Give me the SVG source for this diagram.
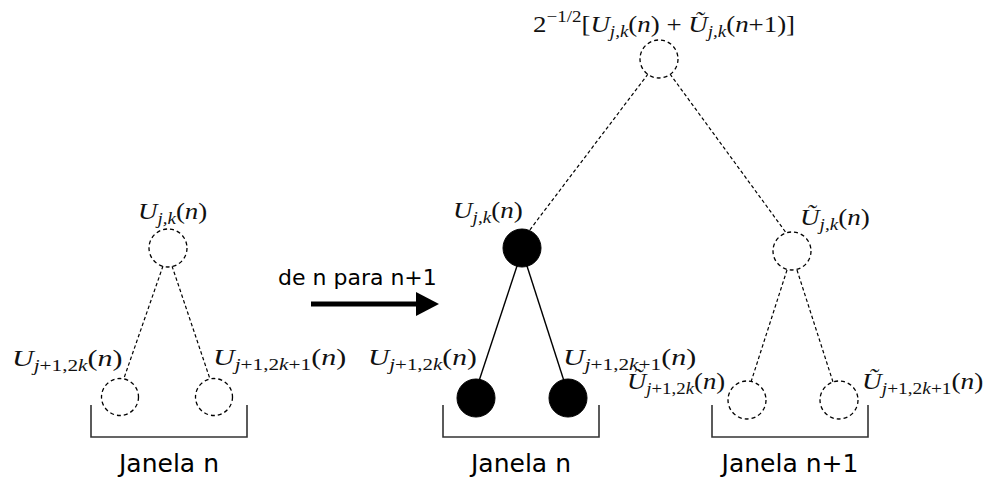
<svg xmlns="http://www.w3.org/2000/svg" width="990" height="479" viewBox="0 0 990 479">
<style>
.dc{fill:#fff;stroke:#000;stroke-width:1.3;stroke-dasharray:4 3}
.fc{fill:#000;stroke:#000;stroke-width:1}
.dl{stroke:#000;stroke-width:1.2;stroke-dasharray:3.5 2.5;fill:none}
.sl{stroke:#000;stroke-width:1.4;fill:none}
.br{stroke:#333;stroke-width:1.6;fill:none}
.m{font-family:"Liberation Serif","Times New Roman",serif;font-size:24px;fill:#111}
.i{font-style:italic}
.s{font-size:17px}
.t{font-family:"DejaVu Sans",sans-serif;fill:#000}
</style>
<rect width="990" height="479" fill="#fff"/>
<g id="connectors">
  <line class="dl" x1="163" y1="266" x2="123" y2="381"/>
  <line class="dl" x1="172" y1="266" x2="210" y2="379"/>
  <line class="sl" x1="517" y1="266" x2="479" y2="381"/>
  <line class="sl" x1="527" y1="266" x2="564" y2="381"/>
  <line class="dl" x1="648" y1="74" x2="529" y2="231"/>
  <line class="dl" x1="670" y1="74" x2="787" y2="234"/>
  <line class="dl" x1="787" y1="270" x2="751" y2="382"/>
  <line class="dl" x1="797" y1="270" x2="833" y2="382"/>
  <line x1="311" y1="304" x2="418" y2="304" stroke="#000" stroke-width="5"/>
  <polygon points="416,292 439,304 416,316" fill="#000"/>
</g>
<g id="top-node">
  <circle class="dc" cx="659" cy="59" r="19"/>
  <text class="m" transform="translate(533,32) scale(1.12,1)">2<tspan class="s" dy="-10">−1/2</tspan><tspan dy="10">[</tspan><tspan class="i">U</tspan><tspan class="s i" dy="5">j,k</tspan><tspan dy="-5">(</tspan><tspan class="i">n</tspan>) + <tspan class="i">Ũ</tspan><tspan class="s i" dy="5">j,k</tspan><tspan dy="-5">(</tspan><tspan class="i">n</tspan>+1)]</text>
</g>
<g id="left-parent">
  <circle class="dc" cx="168" cy="248" r="19"/>
  <text class="m" transform="translate(138,219) scale(1.12,1)"><tspan class="i">U</tspan><tspan class="s i" dy="5">j,k</tspan><tspan dy="-5">(</tspan><tspan class="i">n</tspan>)</text>
</g>
<g id="left-child-a">
  <circle class="dc" cx="120" cy="397" r="18.5"/>
  <text class="m" transform="translate(12,366) scale(1.25,1)"><tspan class="i">U</tspan><tspan class="s" dy="5"><tspan class="i">j</tspan>+1,2<tspan class="i">k</tspan></tspan><tspan dy="-5">(</tspan><tspan class="i">n</tspan>)</text>
</g>
<g id="left-child-b">
  <circle class="dc" cx="214" cy="397" r="18.5"/>
  <text class="m" transform="translate(213,365) scale(1.25,1)"><tspan class="i">U</tspan><tspan class="s" dy="5"><tspan class="i">j</tspan>+1,2<tspan class="i">k</tspan>+1</tspan><tspan dy="-5">(</tspan><tspan class="i">n</tspan>)</text>
</g>
<g id="left-window">
  <path class="br" d="M91 405 V437 H247 V405"/>
  <text class="t" x="169" y="472" font-size="25" text-anchor="middle">Janela n</text>
</g>
<g id="arrow-label">
  <text class="t" x="278" y="285" font-size="22">de n para n+1</text>
</g>
<g id="mid-parent">
  <circle class="fc" cx="522" cy="248" r="19"/>
  <text class="m" transform="translate(453,218) scale(1.13,1)"><tspan class="i">U</tspan><tspan class="s i" dy="5">j,k</tspan><tspan dy="-5">(</tspan><tspan class="i">n</tspan>)</text>
</g>
<g id="mid-child-a">
  <circle class="fc" cx="476" cy="398" r="19"/>
  <text class="m" transform="translate(368,365) scale(1.23,1)"><tspan class="i">U</tspan><tspan class="s" dy="5"><tspan class="i">j</tspan>+1,2<tspan class="i">k</tspan></tspan><tspan dy="-5">(</tspan><tspan class="i">n</tspan>)</text>
</g>
<g id="mid-child-b">
  <circle class="fc" cx="568" cy="398" r="19"/>
  <text class="m" transform="translate(563,365) scale(1.25,1)"><tspan class="i">U</tspan><tspan class="s" dy="5"><tspan class="i">j</tspan>+1,2<tspan class="i">k</tspan>+1</tspan><tspan dy="-5">(</tspan><tspan class="i">n</tspan>)</text>
</g>
<g id="mid-window">
  <path class="br" d="M443 405 V437 H599 V405"/>
  <text class="t" x="521" y="472" font-size="25" text-anchor="middle">Janela n</text>
</g>
<g id="right-parent">
  <circle class="dc" cx="792" cy="251" r="19"/>
  <text class="m" transform="translate(800,225) scale(1.13,1)"><tspan class="i">Ũ</tspan><tspan class="s i" dy="5">j,k</tspan><tspan dy="-5">(</tspan><tspan class="i">n</tspan>)</text>
</g>
<g id="right-child-a">
  <circle class="dc" cx="747" cy="400" r="19"/>
  <text class="m" transform="translate(627,389) scale(1.11,1)"><tspan class="i">Ũ</tspan><tspan class="s" dy="5"><tspan class="i">j</tspan>+1,2<tspan class="i">k</tspan></tspan><tspan dy="-5">(</tspan><tspan class="i">n</tspan>)</text>
</g>
<g id="right-child-b">
  <circle class="dc" cx="839" cy="400" r="19"/>
  <text class="m" transform="translate(862,389) scale(1.14,1)"><tspan class="i">Ũ</tspan><tspan class="s" dy="5"><tspan class="i">j</tspan>+1,2<tspan class="i">k</tspan>+1</tspan><tspan dy="-5">(</tspan><tspan class="i">n</tspan>)</text>
</g>
<g id="right-window">
  <path class="br" d="M712 405 V437 H868 V405"/>
  <text class="t" x="790" y="472" font-size="25" text-anchor="middle">Janela n+1</text>
</g>
</svg>
